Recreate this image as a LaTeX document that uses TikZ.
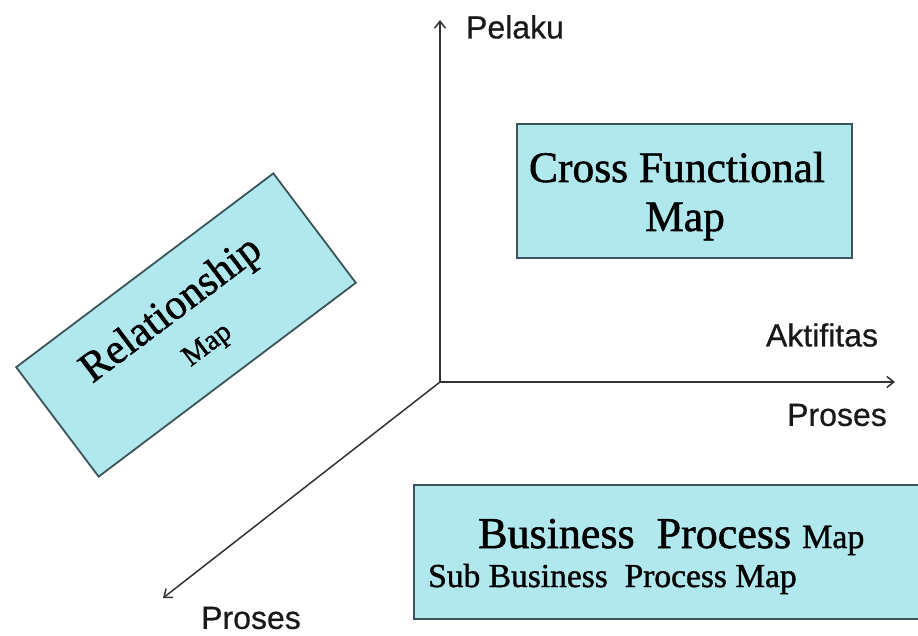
\documentclass[tikz,border=0pt]{standalone}
\usepackage{fontspec}
\usetikzlibrary{arrows.meta}
\setmainfont[FakeBold=1.2]{Liberation Serif}
\newfontfamily\axisfont[FakeBold=0.6]{Liberation Sans}
\definecolor{boxfill}{RGB}{176,232,238}
\definecolor{boxline}{RGB}{60,85,88}
\begin{document}
\begin{tikzpicture}[x=1pt,y=-1pt,
  mapbox/.style={draw=boxline, line width=1.8pt, fill=boxfill, inner sep=0pt},
  axisline/.style={draw=black!80, line width=1.5pt, -{Straight Barb[length=7pt,width=11pt]}},
  axislabel/.style={font=\axisfont\fontsize{32}{36}\selectfont, text=black!90, inner sep=0pt},
  maptext/.style={inner sep=0pt, anchor=base}]
\useasboundingbox (0,0) rectangle (918,636);
\clip (0,0) rectangle (918,636);
% axes
\coordinate (O) at (440,382);
\coordinate (up) at (440,20);
\coordinate (right) at (895,382);
\coordinate (down) at (163,598);
\draw[axisline] (O) -- (up);
\draw[axisline] (O) -- (right);
\draw[axisline] (O) -- (down);
% labels
\node[axislabel] (pelaku) at (515,27) {Pelaku};
\node[axislabel] (aktif) at (822,335) {Aktifitas};
\node[axislabel] (proses1) at (837,415) {Proses};
\node[axislabel] (proses2) at (251,618) {Proses};
% cross functional
\node[mapbox, minimum width=335pt, minimum height=134pt] (cfm) at (684.5,191) {};
\node[maptext, font=\fontsize{43.5}{50}\selectfont] (cfmt1) at (677,182) {Cross Functional};
\node[maptext, font=\fontsize{43.5}{50}\selectfont] (cfmt2) at (685,231) {Map};
% business process
\node[mapbox, minimum width=520pt, minimum height=134pt, anchor=north west] (bpm) at (413,484) {};
\node[font=\fontsize{44}{48}\selectfont, inner sep=0pt, anchor=base west] (bpt) at (478,548) {Business\ \ Process {\fontsize{34}{36}\selectfont Map}};
\node[font=\fontsize{33.5}{36}\selectfont, inner sep=0pt, anchor=base west] (sbpt) at (428,587) {Sub Business\ \ Process Map};
% relationship
\node[mapbox, minimum width=322pt, minimum height=137pt, rotate=37] (rm) at (186,325) {};
\node[font=\fontsize{42.5}{46}\selectfont, inner sep=0pt, rotate=37] (rmt) at (172,311) {Relationship};
\node[font=\fontsize{29}{30}\selectfont, inner sep=0pt, rotate=37] (rmm) at (208,346) {Map};
\end{tikzpicture}
\end{document}
